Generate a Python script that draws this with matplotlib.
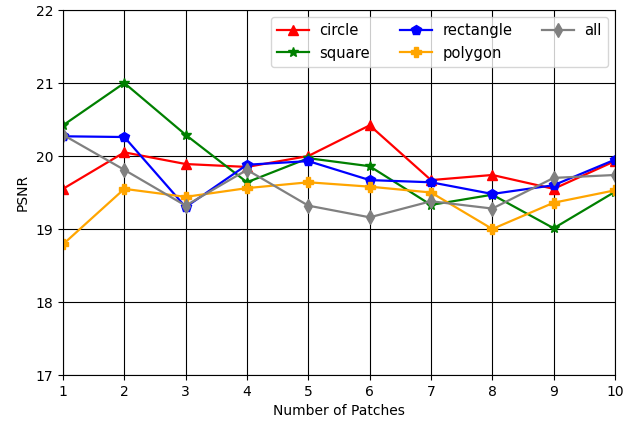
import numpy as np
import matplotlib
matplotlib.use('Agg')
import matplotlib.pyplot as plt

## DATA ##
patches = [1, 2, 3, 4, 5, 6, 7, 8, 9, 10]
circle = [19.55, 20.05, 19.89, 19.85, 20.00, 20.42, 19.67, 19.74, 19.55, 19.93]
square = [20.42, 21.00, 20.29, 19.64, 19.97, 19.86, 19.33, 19.47, 19.01, 19.51]
rectangle = [20.27, 20.26, 19.30, 19.88, 19.93, 19.67, 19.64, 19.48, 19.60, 19.95]
polygon = [18.79, 19.55, 19.44, 19.56, 19.64, 19.58, 19.50, 19.00, 19.36, 19.53]
all_shapes = [20.29, 19.81, 19.32, 19.81, 19.32, 19.16, 19.38, 19.28, 19.70, 19.74]

fig = plt.figure(figsize=(6.37, 4.23), dpi=100)
ax = fig.add_axes([63/637, 48/423, 552/637, 365/423])

ax.plot(patches, circle, color='red', marker='^', markersize=7.5, lw=1.6, label='circle')
ax.plot(patches, square, color='green', marker='*', markersize=7.5, lw=1.6, label='square')
ax.plot(patches, rectangle, color='blue', marker='p', markersize=7.5, lw=1.6, label='rectangle')
ax.plot(patches, polygon, color='orange', marker='P', markersize=7.5, lw=1.6, label='polygon')
ax.plot(patches, all_shapes, color='gray', marker='d', markersize=7.5, lw=1.6, label='all')

ax.set_xlim(1, 10)
ax.set_ylim(17, 22)
ax.set_xticks(patches)
ax.grid(True, color='black', linewidth=0.8)
ax.set_xlabel('Number of Patches')
ax.set_ylabel('PSNR')
ax.legend(loc='upper right', ncol=3, fontsize=10.6, handlelength=2.2,
          handletextpad=0.7)

fig.savefig('out.png', dpi=100)
